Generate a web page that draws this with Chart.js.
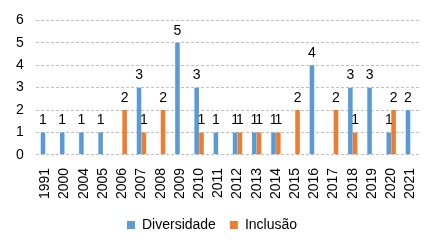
<!DOCTYPE html>
<html>
<head>
<meta charset="utf-8">
<script src="https://cdn.jsdelivr.net/npm/chart.js@4/dist/chart.umd.min.js"></script>
<style>
  html, body { margin: 0; padding: 0; background: #fff; }
  #wrap { width: 435px; height: 245px; }
</style>
</head>
<body>
<div id="wrap"><canvas id="chart" width="435" height="245"></canvas></div>
<script>
// Anos (categorias)
const years = ['1991', '2000', '2004', '2005', '2006', '2007', '2008', '2009', '2010', '2011',
  '2012', '2013', '2014', '2015', '2016', '2017', '2018', '2019', '2020', '2021'];

// Séries
const diversidade = [1, 1, 1, 1, 0, 3, 0, 5, 3, 1, 1, 1, 1, 0, 4, 0, 3, 3, 1, 2];
const inclusao = [0, 0, 0, 0, 2, 1, 2, 0, 1, 0, 1, 1, 1, 2, 0, 2, 1, 0, 2, 0];

const yTicks = [0, 1, 2, 3, 4, 5, 6];

const FONT = 'Arial, "Liberation Sans", sans-serif';

// Rótulos de valor acima das barras (só quando > 0)
const valueLabels = {
  id: 'valueLabels',
  afterDatasetsDraw(chart) {
    const ctx = chart.ctx;
    ctx.save();
    ctx.font = '14px ' + FONT;
    ctx.fillStyle = '#000';
    ctx.textAlign = 'center';
    ctx.textBaseline = 'bottom';
    chart.data.datasets.forEach((ds, i) => {
      const meta = chart.getDatasetMeta(i);
      meta.data.forEach((bar, j) => {
        const v = ds.data[j];
        if (!v) return;
        ctx.fillText(String(v), bar.x, bar.y - 5);
      });
    });
    ctx.restore();
  },
};

new Chart(document.getElementById('chart').getContext('2d'), {
  type: 'bar',
  data: {
    labels: years,
    datasets: [
      {
        label: 'Diversidade',
        data: diversidade,
        backgroundColor: '#5B9BD5',
        categoryPercentage: 0.5,
        barPercentage: 0.95,
      },
      {
        label: 'Inclusão',
        data: inclusao,
        backgroundColor: '#ED7D31',
        categoryPercentage: 0.5,
        barPercentage: 0.95,
      },
    ],
  },
  options: {
    responsive: false,
    animation: false,
    layout: { padding: { left: 4, right: 15, top: 12, bottom: 3 } },
    scales: {
      x: {
        grid: { display: false },
        border: { display: false },
        ticks: {
          color: '#000',
          font: { family: FONT, size: 14 },
          minRotation: 90,
          maxRotation: 90,
          autoSkip: false,
          padding: 5,
        },
      },
      y: {
        min: 0,
        max: 6,
        afterBuildTicks: (axis) => { axis.ticks = yTicks.map((v) => ({ value: v })); },
        border: { display: true, color: 'rgba(0,0,0,0)', dash: [3, 2] },
        grid: { color: '#c0c0c0', lineWidth: 1, drawTicks: false },
        ticks: {
          color: '#000',
          font: { family: FONT, size: 14 },
          padding: 12,
        },
      },
    },
    plugins: {
      legend: {
        position: 'bottom',
        labels: {
          color: '#000',
          font: { family: FONT, size: 14 },
          boxWidth: 8,
          boxHeight: 8,
          padding: 14,
        },
      },
      tooltip: { enabled: false },
    },
  },
  plugins: [valueLabels],
});
</script>
</body>
</html>
